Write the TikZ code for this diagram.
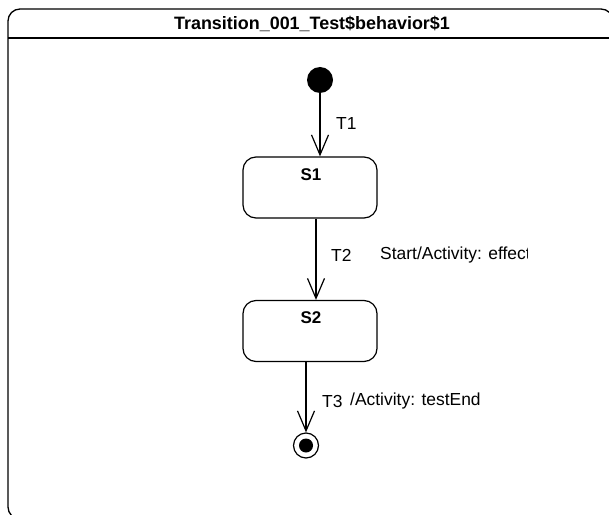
\documentclass[tikz,border=0pt]{standalone}
\usepackage{fontspec}
\setmainfont{Liberation Sans}
\usetikzlibrary{arrows.meta}
\begin{document}
\begin{tikzpicture}[x=1bp,y=-1bp,
  lbl/.style={font=\fontsize{17.5}{20}\selectfont, inner sep=0pt, anchor=west},
  ttl/.style={font=\bfseries\fontsize{18}{20}\selectfont, inner sep=0pt},
  stl/.style={font=\bfseries\fontsize{17}{20}\selectfont, inner sep=0pt},
  statebox/.style={draw, line width=1.2bp, rounded corners=13bp, minimum width=134bp, minimum height=61bp, inner sep=0pt},
  trans/.style={line width=1.2bp, -{Straight Barb[length=20bp,width=17bp,line width=1.2bp]}}]
\useasboundingbox (0,0) rectangle (609,515);
\clip (0,0) rectangle (609,515);
% frame
\draw[line width=1.3bp, rounded corners=12bp] (8,519) -- (8,9) -- (613,9) -- (613,519) -- cycle;
\draw[line width=1.3bp] (8,38) -- (613,38);
\node[ttl] (title) at (312,24) {Transition\_001\_Test\$behavior\$1};
% states
\node[circle, fill=black, minimum size=26bp, inner sep=0pt] (init) at (320,80) {};
\node[statebox] (s1) at (310,187.5) {};
\node[stl] (s1l) at (311,175) {S1};
\node[statebox] (s2) at (310,331) {};
\node[stl] (s2l) at (311,318) {S2};
\node[circle, draw, line width=1.2bp, minimum size=25bp, inner sep=0pt] (fin) at (306,445.5) {};
\node[circle, fill=black, minimum size=14bp, inner sep=0pt] (finc) at (306,445.5) {};
% transitions
\draw[trans] (init.south) -- (init.south |- s1.north);
\draw[trans] (s1.south -| 316,0) -- (s2.north -| 316,0);
\draw[trans] (s2.south -| 306,0) -- (fin.north);
% labels
\node[lbl] (t1) at (336,124) {T1};
\node[lbl] (t2) at (331,255) {T2};
\begin{scope}
\clip (370,240) rectangle (527,272);
\node[lbl] (t2e) at (380,255) {Start/Activity: effect};
\end{scope}
\node[lbl] (t3) at (322,401) {T3};
\node[lbl] (t3e) at (350,401) {/Activity: testEnd};
\end{tikzpicture}
\end{document}
